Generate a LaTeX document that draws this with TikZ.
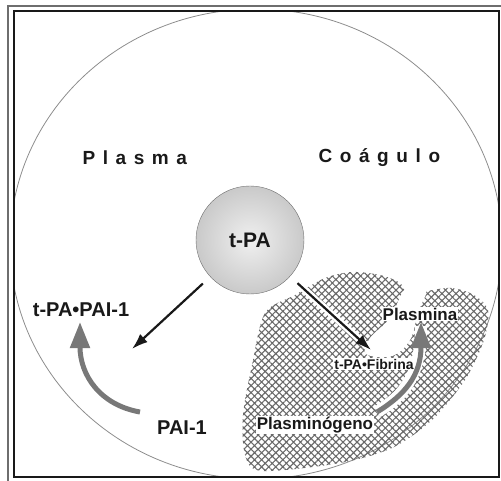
\documentclass[tikz,border=0pt]{standalone}
\usepackage{fontspec}
\setmainfont{Liberation Sans}
\usepackage{xcolor}
\definecolor{inkcolor}{RGB}{25,25,25}
\definecolor{rimcolor}{RGB}{110,110,110}
\definecolor{edgecolor}{RGB}{140,140,140}
\definecolor{hatchcolor}{RGB}{105,105,105}
\definecolor{bendcolor}{RGB}{120,120,120}
\usepackage{tikz}
\usetikzlibrary{arrows.meta,patterns.meta}

\begin{document}
\begin{tikzpicture}[x=1pt, y=-1pt, every node/.style={color=inkcolor, font=\bfseries},
    tag/.style={inner sep=1pt},
    spaced/.style={font=\bfseries\fontsize{19}{21}\selectfont\addfontfeature{LetterSpace=40}},
    blackarrow/.style={-{Latex[length=16pt,width=11pt]}, line width=2.2pt, color=inkcolor},
    bendarrow/.style={-{Triangle[length=26pt,width=19pt]}, line width=5pt, color=bendcolor},
    halo/.style={line width=12pt, white}]
  \useasboundingbox (0,0) rectangle (501,481);
  \draw[rimcolor, line width=1.3pt] (8,481) -- (8,6) -- (501,6);
  \begin{scope}
    \clip (14,11) rectangle (499,477);
    \draw[edgecolor, line width=0.8pt] (256,244) ellipse [x radius=246, y radius=235];
    \fill[pattern={Hatch[angle=45,distance=5pt,line width=1.1pt]}, pattern color=hatchcolor] plot[smooth cycle, tension=0.5] coordinates {(265,313) (295,295) (325,278) (352,272) (380,275) (400,283) (410,298) (428,291) (452,288) (474,295) (488,310) (484,340) (465,380) (432,420) (392,448) (340,463) (262,471) (245,455) (243,415) (252,365)};
  \end{scope}
  \draw[inkcolor, line width=1.6pt] (14,11) rectangle (499,477);

  \node[spaced, anchor=west] (plasma) at (79,158) {Plasma};
  \node[spaced, anchor=west] (coagulo) at (315,158) {Coágulo};
  \node[circle, minimum size=108pt, draw=rimcolor, inner color=gray!12, outer color=gray!42, font=\bfseries\fontsize{21}{23}\selectfont] (tpa) at (250,240) {t-PA};

  \node[tag, font=\bfseries\fontsize{20}{22}\selectfont] (tpapai) at (81,310) {t-PA•PAI-1};
  \node[tag, font=\bfseries\fontsize{20}{22}\selectfont] (pai) at (182,428) {PAI-1};
  \coordinate (tipplasma) at (132,349);
  \coordinate (tipclot) at (371,350);
  \coordinate (paitail) at (140,412);
  \coordinate (paihead) at (80,322);
  \coordinate (gentail) at (377,412);
  \coordinate (genhead) at (421,322);

  \fill[white] plot[smooth cycle, tension=0.6] coordinates {(406,288) (426,290) (418,312) (410,340) (392,356) (366,354) (370,338) (390,318)};
  \draw[halo, line width=7pt, shorten <=10pt] (tpa) -- (tipclot);
  \draw[halo] (gentail) .. controls (405,395) and (421,375) .. ([yshift=-4pt]genhead);
  \node[tag, fill=white, font=\bfseries\fontsize{17}{19}\selectfont] (plasmina) at (420,314) {Plasmina};
  \node[tag, fill=white, font=\bfseries\fontsize{14}{16}\selectfont] (tpafib) at (374,364) {t-PA•Fibrina};
  \node[tag, fill=white, font=\bfseries\fontsize{17}{19}\selectfont] (plasminogeno) at (315,425) {Plasminógeno};

  \draw[blackarrow, shorten <=10pt] (tpa) -- (tipplasma);
  \draw[blackarrow, shorten <=10pt] (tpa) -- (tipclot);
  \draw[bendarrow] (paitail) .. controls (100,405) and (80,375) .. (paihead);
  \draw[bendarrow] (gentail) .. controls (405,395) and (421,375) .. (genhead);
\end{tikzpicture}
\end{document}
